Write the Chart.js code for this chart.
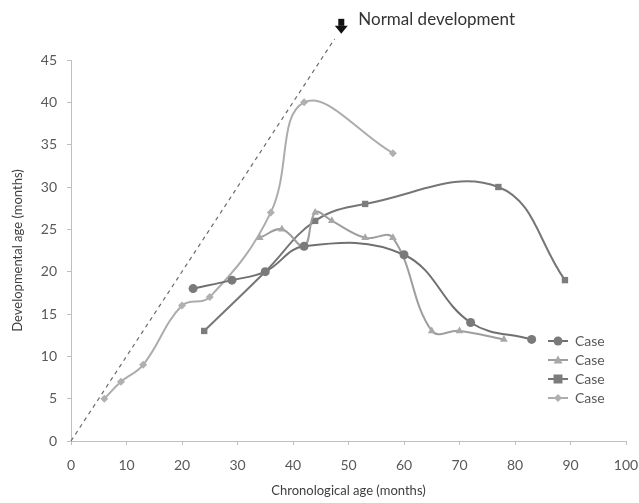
<!DOCTYPE html>
<html>
<head>
<meta charset="utf-8">
<script src="https://cdn.jsdelivr.net/npm/chart.js@4/dist/chart.umd.min.js"></script>
<style>
  html, body { margin: 0; padding: 0; background: #fff; }
  #wrap { width: 639px; height: 503px; position: relative; }
</style>
</head>
<body>
<div id="wrap"><canvas id="devChart"></canvas></div>
<script>
/* ========== Data ========== */
const normalX = [0, 47.5];
const normalY = [0, 47.5];

const case1X = [22, 29, 35, 42, 60, 72, 83];
const case1Y = [18, 19, 20, 23, 22, 14, 12];

const case2X = [34, 38, 42, 44, 47, 53, 58, 65, 70, 78];
const case2Y = [24, 25, 23, 27, 26, 24, 24, 13, 13, 12];

const case3X = [24, 35, 44, 53, 77, 89];
const case3Y = [13, 20, 26, 28, 30, 19];

const case4X = [6, 9, 13, 20, 25, 36, 42, 58];
const case4Y = [5, 7, 9, 16, 17, 27, 40, 34];

const xTicks = [0, 10, 20, 30, 40, 50, 60, 70, 80, 90, 100];
const yTicks = [0, 5, 10, 15, 20, 25, 30, 35, 40, 45];

const seriesLabels = ["Case", "Case", "Case", "Case"];
const normalLabel = "Normal development";

const toPoints = (xs, ys) => xs.map((x, i) => ({ x: x, y: ys[i] }));

const FONT = "Lato, 'Open Sans', sans-serif";

/* ========== Legend drawn inside the plot ========== */
const caseLegend = {
  id: "caseLegend",
  afterDraw(chart) {
    const ctx = chart.ctx;
    const items = chart.data.datasets.filter(d => d.inLegend);
    const left = 548, top = 341, step = 19;
    ctx.save();
    items.forEach((d, i) => {
      const y = top + i * step;
      ctx.strokeStyle = d.borderColor;
      ctx.lineWidth = 2;
      ctx.beginPath();
      ctx.moveTo(left, y);
      ctx.lineTo(left + 20, y);
      ctx.stroke();
      drawMarker(ctx, d.pointStyle, left + 10, y, d.pointRadius, d.pointBackgroundColor);
      ctx.fillStyle = "#595959";
      ctx.font = "14px " + FONT;
      ctx.textBaseline = "middle";
      ctx.fillText(d.label, left + 27, y);
    });
    ctx.restore();
  }
};

function drawMarker(ctx, style, x, y, r, color) {
  ctx.fillStyle = color;
  ctx.beginPath();
  if (style === "rect") {
    ctx.rect(x - r, y - r, r * 2, r * 2);
  } else if (style === "triangle") {
    ctx.moveTo(x, y - r);
    ctx.lineTo(x + r, y + r * 0.8);
    ctx.lineTo(x - r, y + r * 0.8);
    ctx.closePath();
  } else if (style === "rectRot") {
    ctx.moveTo(x, y - r);
    ctx.lineTo(x + r, y);
    ctx.lineTo(x, y + r);
    ctx.lineTo(x - r, y);
    ctx.closePath();
  } else {
    ctx.arc(x, y, r, 0, Math.PI * 2);
  }
  ctx.fill();
}

/* ========== Arrow + "Normal development" note ========== */
const normalNote = {
  id: "normalNote",
  afterDraw(chart) {
    const ctx = chart.ctx;
    const xs = chart.scales.x, ys = chart.scales.y;
    const ax = xs.getPixelForValue(normalX[1] + 1.2);
    const tip = ys.getPixelForValue(normalY[1]) - 5;
    ctx.save();
    ctx.fillStyle = "#111";
    ctx.fillRect(ax - 3, tip - 15, 6, 7);
    ctx.beginPath();
    ctx.moveTo(ax - 6.5, tip - 8);
    ctx.lineTo(ax + 6.5, tip - 8);
    ctx.lineTo(ax, tip);
    ctx.closePath();
    ctx.fill();
    ctx.fillStyle = "#333";
    ctx.font = "17px " + FONT;
    ctx.textBaseline = "middle";
    ctx.fillText(normalLabel, ax + 17, tip - 14);
    ctx.restore();
  }
};

/* ========== Chart ========== */
const ctx = document.getElementById("devChart").getContext("2d");

new Chart(ctx, {
  type: "scatter",
  data: {
    datasets: [
      {
        label: normalLabel,
        data: toPoints(normalX, normalY),
        showLine: true,
        borderColor: "#6a6a6a",
        borderWidth: 1.2,
        borderDash: [4, 4],
        pointRadius: 0,
        clip: false
      },
      {
        label: seriesLabels[0],
        inLegend: true,
        data: toPoints(case1X, case1Y),
        showLine: true,
        tension: 0.4,
        borderColor: "#707070",
        borderWidth: 2,
        pointStyle: "circle",
        pointRadius: 4.5,
        pointBackgroundColor: "#7a7a7a",
        pointBorderWidth: 0
      },
      {
        label: seriesLabels[1],
        inLegend: true,
        data: toPoints(case2X, case2Y),
        showLine: true,
        tension: 0.4,
        borderColor: "#9e9e9e",
        borderWidth: 2,
        pointStyle: "triangle",
        pointRadius: 4.5,
        pointBackgroundColor: "#a8a8a8",
        pointBorderWidth: 0
      },
      {
        label: seriesLabels[2],
        inLegend: true,
        data: toPoints(case3X, case3Y),
        showLine: true,
        tension: 0.4,
        borderColor: "#767676",
        borderWidth: 2,
        pointStyle: "rect",
        pointRadius: 4.5,
        pointBackgroundColor: "#7c7c7c",
        pointBorderWidth: 0
      },
      {
        label: seriesLabels[3],
        inLegend: true,
        data: toPoints(case4X, case4Y),
        showLine: true,
        tension: 0.4,
        borderColor: "#acacac",
        borderWidth: 2,
        pointStyle: "rectRot",
        pointRadius: 4,
        pointBackgroundColor: "#b0b0b0",
        pointBorderWidth: 0
      }
    ]
  },
  options: {
    responsive: true,
    maintainAspectRatio: false,
    animation: false,
    layout: { padding: { top: 60, right: 0, left: 6, bottom: 0 } },
    plugins: {
      legend: { display: false },
      tooltip: { enabled: false }
    },
    scales: {
      x: {
        type: "linear",
        min: 0,
        max: 100,
        afterBuildTicks: s => { s.ticks = xTicks.map(v => ({ value: v })); },
        afterFit: s => { s.height = 62; s.paddingRight = 13; },
        grid: { drawOnChartArea: false, tickLength: 4, color: "#bfbfbf" },
        border: { color: "#bfbfbf" },
        ticks: { color: "#595959", font: { family: FONT, size: 14 }, padding: 12, maxRotation: 0 },
        title: { display: true, text: "Chronological age (months)", color: "#404040", font: { family: FONT, size: 13 }, padding: { top: 4 } }
      },
      y: {
        type: "linear",
        min: 0,
        max: 45,
        afterBuildTicks: s => { s.ticks = yTicks.map(v => ({ value: v })); },
        afterFit: s => { s.width = 65; },
        grid: { drawOnChartArea: false, tickLength: 4, color: "#bfbfbf" },
        border: { color: "#bfbfbf" },
        ticks: { color: "#595959", font: { family: FONT, size: 14 }, padding: 10 },
        title: { display: true, text: "Developmental age (months)", color: "#404040", font: { family: FONT, size: 13 }, padding: { bottom: 4 } }
      }
    }
  },
  plugins: [caseLegend, normalNote]
});
</script>
</body>
</html>
